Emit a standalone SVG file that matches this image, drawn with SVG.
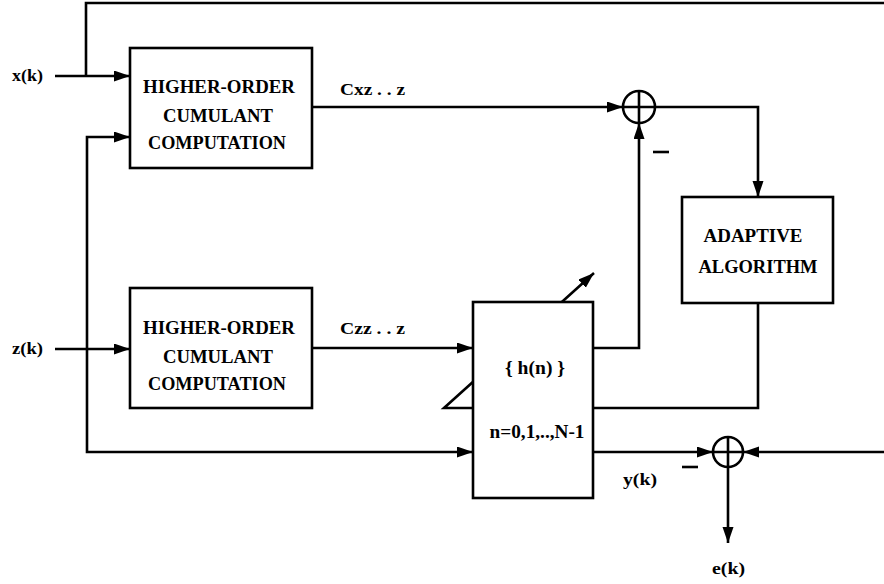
<svg xmlns="http://www.w3.org/2000/svg" width="884" height="584" viewBox="0 0 884 584">
<style>
.ln{fill:none;stroke:#000;stroke-width:2.6}
.bx{fill:#fff;stroke:#000;stroke-width:2.6}
.t{font-family:"Liberation Serif","Times New Roman",serif;font-weight:bold;fill:#000}
.bt{font-size:19px;text-anchor:middle}
.lb{font-size:17px}
</style>
<defs>
<marker id="ah" markerUnits="userSpaceOnUse" markerWidth="18" markerHeight="12" refX="16" refY="5.5" orient="auto">
<path d="M0,0 L16,5.5 L0,11 z" fill="#000"/>
</marker>
</defs>
<rect width="884" height="584" fill="#fff"/>
<g id="connectors">
<path class="ln" d="M55,76 H130" marker-end="url(#ah)"/>
<path class="ln" d="M86,76 V3 H884"/>
<path class="ln" d="M87,300 V137 H130" marker-end="url(#ah)"/>
<path class="ln" d="M87,300 V452 H473" marker-end="url(#ah)"/>
<path class="ln" d="M55,349 H130" marker-end="url(#ah)"/>
<path class="ln" d="M312,107 H623" marker-end="url(#ah)"/>
<path class="ln" d="M312,348 H473" marker-end="url(#ah)"/>
<path class="ln" d="M593,348 H639 V123" marker-end="url(#ah)"/>
<path class="ln" d="M655,107 H758 V197" marker-end="url(#ah)"/>
<path class="ln" d="M758,303 V408 H593"/>
<path class="ln" d="M593,452 H713" marker-end="url(#ah)"/>
<path class="ln" d="M884,452 H743" marker-end="url(#ah)"/>
<path class="ln" d="M728,467 V543" marker-end="url(#ah)"/>
<path class="ln" d="M473,408 H444 L594,273" marker-end="url(#ah)"/>
</g>
<g id="hoc1">
<rect class="bx" x="130" y="48" width="182" height="120"/>
<text class="t bt" x="219" y="93" textLength="152" lengthAdjust="spacingAndGlyphs">HIGHER-ORDER</text>
<text class="t bt" x="218" y="122" textLength="110" lengthAdjust="spacingAndGlyphs">CUMULANT</text>
<text class="t bt" x="217" y="149" textLength="138" lengthAdjust="spacingAndGlyphs">COMPUTATION</text>
</g>
<g id="hoc2">
<rect class="bx" x="130" y="288" width="182" height="120"/>
<text class="t bt" x="219" y="334" textLength="152" lengthAdjust="spacingAndGlyphs">HIGHER-ORDER</text>
<text class="t bt" x="218" y="363" textLength="110" lengthAdjust="spacingAndGlyphs">CUMULANT</text>
<text class="t bt" x="217" y="390" textLength="138" lengthAdjust="spacingAndGlyphs">COMPUTATION</text>
</g>
<g id="filter">
<rect class="bx" x="473" y="302" width="120" height="196"/>
<text class="t bt" x="535" y="374" textLength="60" lengthAdjust="spacingAndGlyphs">{ h(n) }</text>
<text class="t bt" x="537" y="438" textLength="95" lengthAdjust="spacingAndGlyphs">n=0,1,..,N-1</text>
</g>
<g id="adaptive">
<rect class="bx" x="682" y="197" width="151" height="106"/>
<text class="t bt" x="753" y="242" textLength="99" lengthAdjust="spacingAndGlyphs">ADAPTIVE</text>
<text class="t bt" x="758" y="273" textLength="119" lengthAdjust="spacingAndGlyphs">ALGORITHM</text>
</g>
<g id="sum1">
<circle class="bx" cx="639" cy="107" r="16"/>
<path class="ln" d="M623,107 H655 M639,91 V123"/>
</g>
<g id="sum2">
<circle class="bx" cx="728" cy="452" r="15"/>
<path class="ln" d="M713,452 H743 M728,437 V467"/>
</g>
<g id="labels">
<text class="t lb" x="12" y="81" textLength="31" lengthAdjust="spacingAndGlyphs">x(k)</text>
<text class="t lb" x="12" y="354" textLength="31" lengthAdjust="spacingAndGlyphs">z(k)</text>
<text class="t lb" x="340" y="95" textLength="65" lengthAdjust="spacingAndGlyphs">Cxz . . z</text>
<text class="t lb" x="340" y="334" textLength="65" lengthAdjust="spacingAndGlyphs">Czz . . z</text>
<text class="t lb" x="623" y="485" textLength="34" lengthAdjust="spacingAndGlyphs">y(k)</text>
<text class="t lb" x="712" y="574" textLength="33" lengthAdjust="spacingAndGlyphs">e(k)</text>
<path class="ln" d="M653,152 H669"/>
<path class="ln" d="M682,467 H698"/>
</g>
</svg>
